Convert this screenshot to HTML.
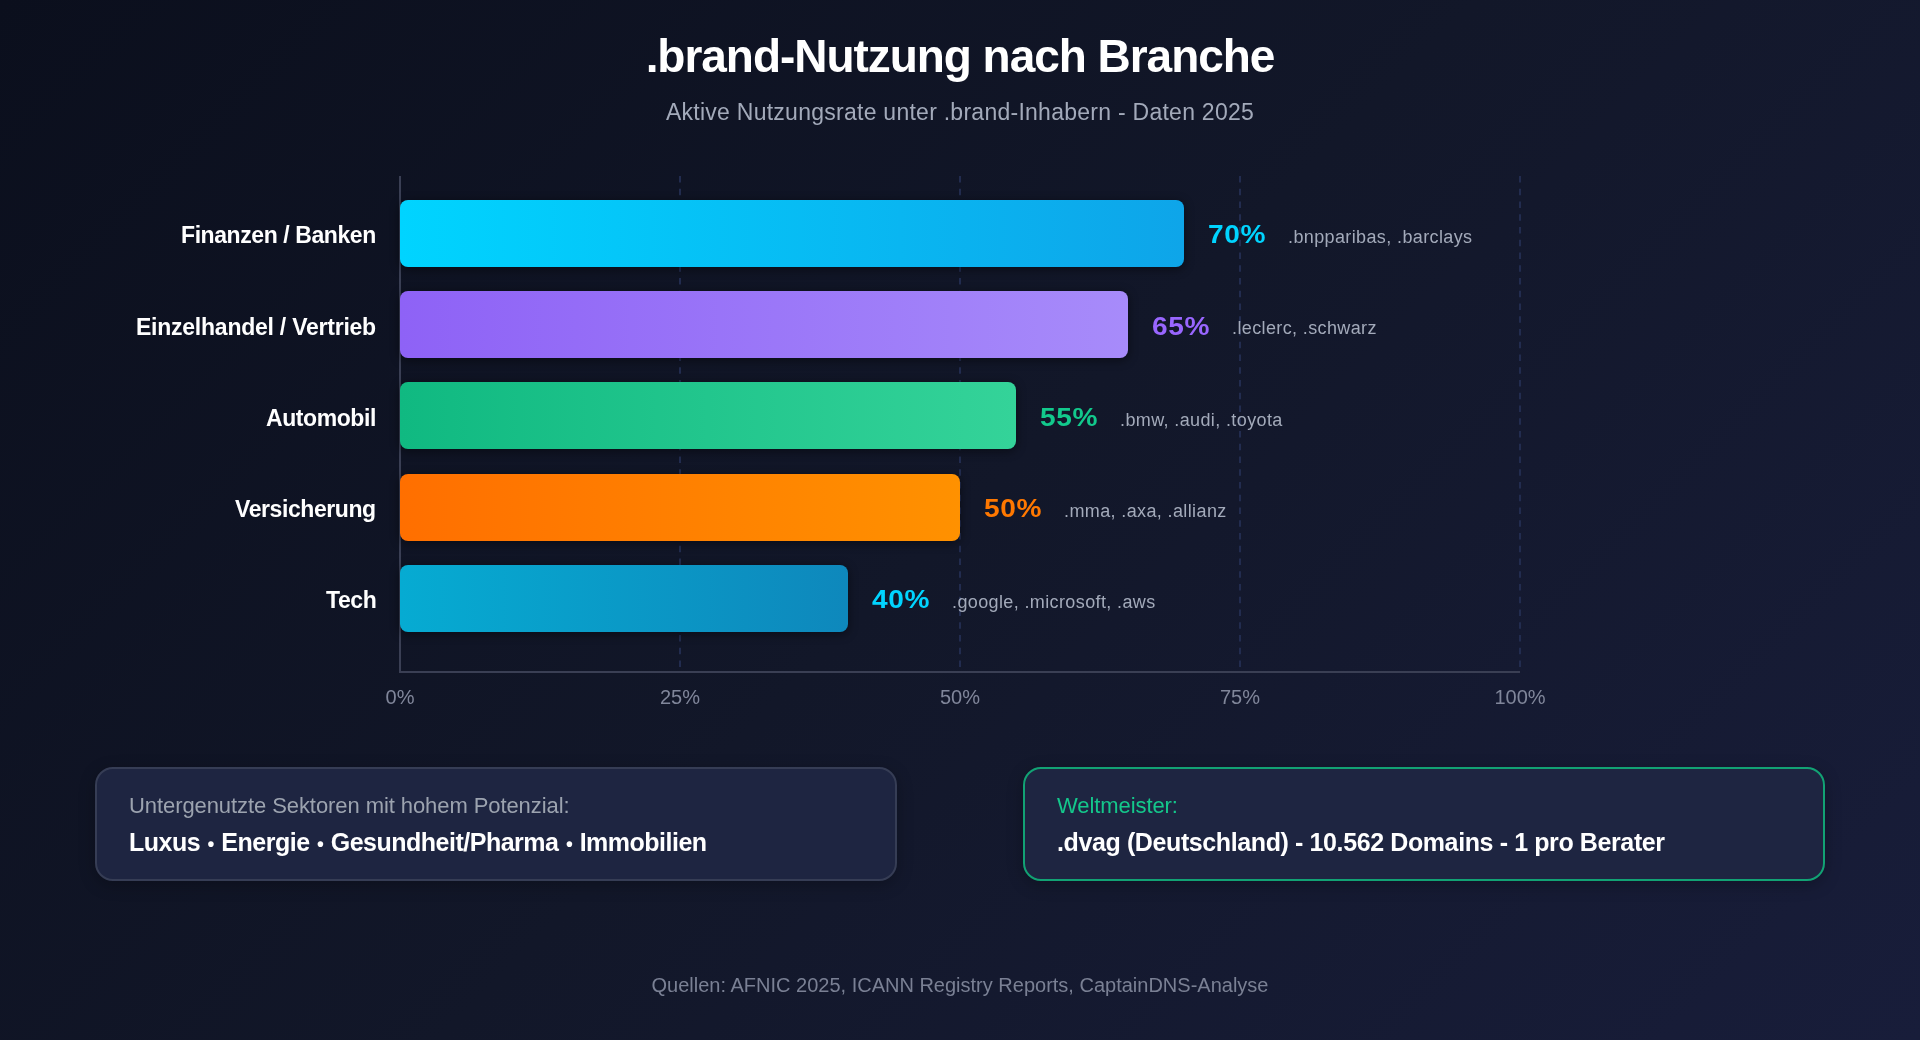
<!DOCTYPE html>
<html lang="de">
<head>
<meta charset="utf-8">
<title>.brand-Nutzung nach Branche</title>
<style>
html,body{margin:0;padding:0;}
body{width:1920px;height:1040px;overflow:hidden;position:relative;
  background:linear-gradient(135deg,#0b0f1d 0%,#121729 50%,#181d3a 100%);
  font-family:"Liberation Sans",sans-serif;}
.t{position:absolute;white-space:nowrap;line-height:1;will-change:transform;}
#title{left:0;width:1920px;text-align:center;top:33px;font-size:46px;font-weight:700;color:#ffffff;letter-spacing:-1.04px;}
#sub{left:0;width:1920px;text-align:center;top:101px;font-size:23px;color:#a3aaba;letter-spacing:0.26px;}
.lab{right:1544px;font-size:23px;font-weight:700;color:#ffffff;text-align:right;letter-spacing:-0.42px;}
.bar{position:absolute;left:400px;height:67px;border-radius:8px;box-shadow:0 2px 10px 1px rgba(0,0,0,.4);}
.pct{font-size:26px;font-weight:700;letter-spacing:0.6px;transform:scaleX(1.08);transform-origin:0 0;}
.dom{font-size:18px;color:#a3aaba;letter-spacing:0.38px;}
.ax{font-size:20px;color:#80869a;width:100px;text-align:center;}
.box{position:absolute;top:767px;width:798px;height:110px;border-radius:18px;background:#1e2541;box-shadow:0 4px 16px rgba(0,0,0,.25);}
.bl{font-size:22px;color:#9ca3af;letter-spacing:-0.08px;}
.bu{font-size:19.5px;margin:0 1px;}
.bm{font-size:25px;font-weight:700;color:#ffffff;letter-spacing:-0.5px;}
#foot{left:0;width:1920px;text-align:center;top:975px;font-size:20px;color:#7a8094;}
</style>
</head>
<body>
<div class="t" id="title">.brand-Nutzung nach Branche</div>
<div class="t" id="sub">Aktive Nutzungsrate unter .brand-Inhabern - Daten 2025</div>

<svg width="1920" height="1040" style="position:absolute;left:0;top:0">
  <g stroke="#222c4f" stroke-width="2" stroke-dasharray="6.4 6.35">
    <line x1="680" y1="176" x2="680" y2="670"/>
    <line x1="960" y1="176" x2="960" y2="670"/>
    <line x1="1240" y1="176" x2="1240" y2="670"/>
    <line x1="1520" y1="176" x2="1520" y2="670"/>
  </g>
  <line x1="400" y1="176" x2="400" y2="673" stroke="#3a3f54" stroke-width="2"/>
  <line x1="399" y1="672" x2="1520" y2="672" stroke="#3a3f54" stroke-width="2"/>
</svg>

<div class="bar" style="top:200px;width:784px;background:linear-gradient(90deg,#00d4ff,#0ea5e9);"></div>
<div class="bar" style="top:291px;width:728px;background:linear-gradient(90deg,#8e62f6,#a78bfa);"></div>
<div class="bar" style="top:382px;width:616px;background:linear-gradient(90deg,#10b981,#34d399);"></div>
<div class="bar" style="top:474px;width:560px;background:linear-gradient(90deg,#ff6f00,#ff9100);"></div>
<div class="bar" style="top:565px;width:448px;background:linear-gradient(90deg,#06abd2,#0e88bc);"></div>

<div class="t lab" style="top:224px">Finanzen / Banken</div>
<div class="t lab" style="top:316px;letter-spacing:-0.24px">Einzelhandel / Vertrieb</div>
<div class="t lab" style="top:407px">Automobil</div>
<div class="t lab" style="top:498px">Versicherung</div>
<div class="t lab" style="top:589px">Tech</div>

<div class="t pct" style="left:1208px;top:221px;color:#00d4ff">70%</div>
<div class="t pct" style="left:1152px;top:313px;color:#9966ff">65%</div>
<div class="t pct" style="left:1040px;top:404px;color:#12c98c">55%</div>
<div class="t pct" style="left:984px;top:495px;color:#ff7800">50%</div>
<div class="t pct" style="left:872px;top:586px;color:#00d4ff">40%</div>

<div class="t dom" style="left:1288px;top:228px">.bnpparibas, .barclays</div>
<div class="t dom" style="left:1232px;top:319px">.leclerc, .schwarz</div>
<div class="t dom" style="left:1120px;top:411px">.bmw, .audi, .toyota</div>
<div class="t dom" style="left:1064px;top:502px">.mma, .axa, .allianz</div>
<div class="t dom" style="left:952px;top:593px">.google, .microsoft, .aws</div>

<div class="t ax" style="left:350px;top:687px">0%</div>
<div class="t ax" style="left:630px;top:687px">25%</div>
<div class="t ax" style="left:910px;top:687px">50%</div>
<div class="t ax" style="left:1190px;top:687px">75%</div>
<div class="t ax" style="left:1470px;top:687px">100%</div>

<div class="box" style="left:95px;border:2px solid #363d55;"></div>
<div class="box" style="left:1023px;border:2px solid #12a274;"></div>

<div class="t bl" style="left:129px;top:795px">Untergenutzte Sektoren mit hohem Potenzial:</div>
<div class="t bm" style="left:129px;top:830px">Luxus <span class="bu">•</span> Energie <span class="bu">•</span> Gesundheit/Pharma <span class="bu">•</span> Immobilien</div>
<div class="t bl" style="left:1057px;top:795px;color:#14c78b">Weltmeister:</div>
<div class="t bm" style="left:1057px;top:830px;letter-spacing:-0.39px">.dvag (Deutschland) - 10.562 Domains - 1 pro Berater</div>

<div class="t" id="foot">Quellen: AFNIC 2025, ICANN Registry Reports, CaptainDNS-Analyse</div>
</body>
</html>
